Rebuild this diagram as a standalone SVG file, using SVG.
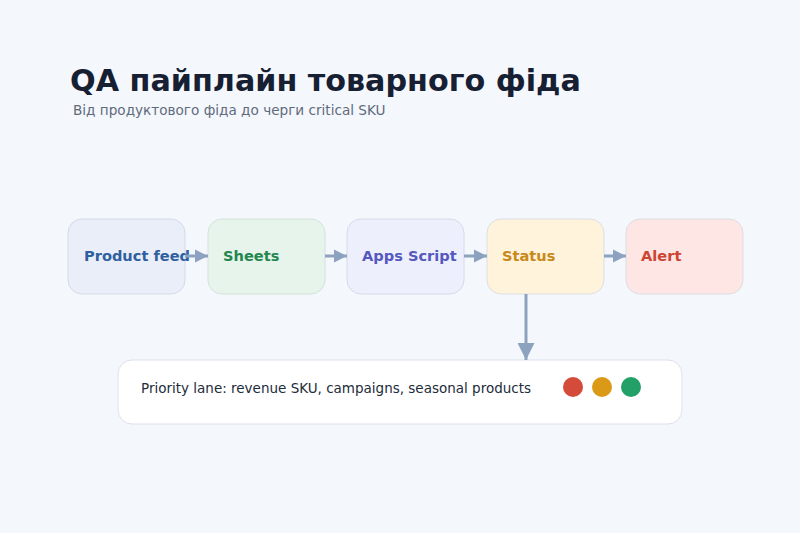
<svg xmlns="http://www.w3.org/2000/svg" width="800" height="533" viewBox="0 0 800 533">
<defs>
<style>
.box{stroke-width:1;}
.lbl{font-family:"DejaVu Sans","Liberation Sans",sans-serif;font-size:14.6px;font-weight:bold;}
.conn{stroke:#8da2bf;stroke-width:3;fill:none;}
</style>
<marker id="ah" viewBox="0 0 10 10" refX="10" refY="5" markerWidth="13" markerHeight="14" markerUnits="userSpaceOnUse" orient="auto"><path d="M0,0 L10,5 L0,10 Z" fill="#8da2bf"/></marker>
<marker id="ahv" viewBox="0 0 10 10" refX="10" refY="5" markerWidth="17" markerHeight="17" markerUnits="userSpaceOnUse" orient="auto"><path d="M0,0 L10,5 L0,10 Z" fill="#8da2bf"/></marker>
</defs>
<rect width="800" height="533" fill="#f4f7fb"/>
<text x="70" y="91" font-family="DejaVu Sans, Liberation Sans, sans-serif" font-size="30.2" font-weight="bold" fill="#172033">QA пайплайн товарного фіда</text>
<text x="73" y="115" font-family="DejaVu Sans, Liberation Sans, sans-serif" font-size="13.6" fill="#5f6b7d">Від продуктового фіда до черги critical SKU</text>
<g id="n-feed"><rect class="box" x="68" y="219" width="117" height="75" rx="14" fill="#e9eef8" stroke="#d3dbe8"/><text class="lbl" x="84" y="260.5" fill="#2f5f9e">Product feed</text></g>
<g id="n-sheets"><rect class="box" x="208" y="219" width="117" height="75" rx="14" fill="#e7f4ec" stroke="#d3e2da"/><text class="lbl" x="223" y="260.5" fill="#23874f">Sheets</text></g>
<g id="n-apps"><rect class="box" x="347" y="219" width="117" height="75" rx="14" fill="#edeffd" stroke="#d6dae8"/><text class="lbl" x="362" y="260.5" fill="#5558bd">Apps Script</text></g>
<g id="n-status"><rect class="box" x="487" y="219" width="117" height="75" rx="14" fill="#fff3dc" stroke="#dcdfe3"/><text class="lbl" x="502" y="260.5" fill="#c9891a">Status</text></g>
<g id="n-alert"><rect class="box" x="626" y="219" width="117" height="75" rx="14" fill="#fde6e3" stroke="#dcdde3"/><text class="lbl" x="641" y="260.5" fill="#cc4433">Alert</text></g>
<g id="n-priority"><rect x="118" y="360" width="564" height="64" rx="14" fill="#ffffff" stroke="#dbe2ec"/><text x="141" y="393" font-family="DejaVu Sans, Liberation Sans, sans-serif" font-size="13.5" fill="#222b3a">Priority lane: revenue SKU, campaigns, seasonal products</text><circle cx="573" cy="387" r="10" fill="#d44b39"/><circle cx="602" cy="387" r="10" fill="#da9a17"/><circle cx="631" cy="387" r="10" fill="#22a067"/></g>
<g id="connectors">
<line class="conn" x1="185" y1="256" x2="208" y2="256" marker-end="url(#ah)"/>
<line class="conn" x1="325" y1="256" x2="347" y2="256" marker-end="url(#ah)"/>
<line class="conn" x1="464" y1="256" x2="487" y2="256" marker-end="url(#ah)"/>
<line class="conn" x1="604" y1="256" x2="626" y2="256" marker-end="url(#ah)"/>
<line class="conn" x1="526" y1="294" x2="526" y2="360" stroke-width="2.5" marker-end="url(#ahv)"/>
</g>
</svg>
